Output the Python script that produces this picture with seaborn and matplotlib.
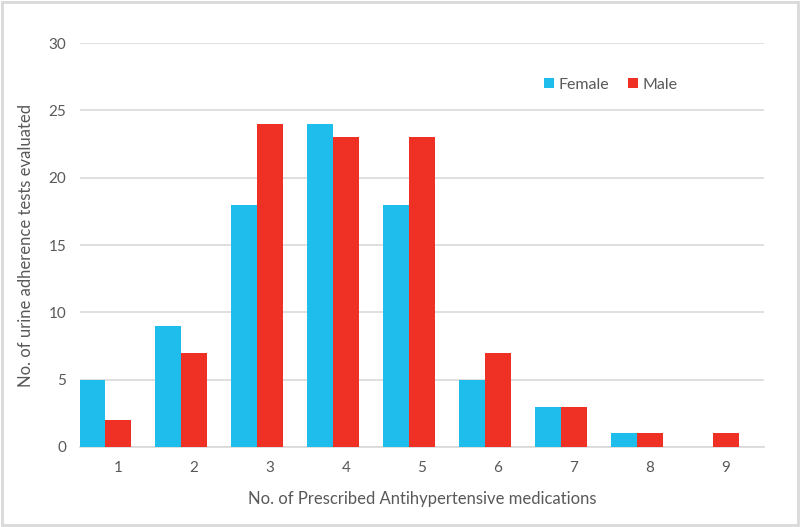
import numpy as np
import pandas as pd
import matplotlib
matplotlib.use("Agg")
import matplotlib.pyplot as plt
import seaborn as sns
from matplotlib.patches import Rectangle

# Дані з рисунка
medications = ['1', '2', '3', '4', '5', '6', '7', '8', '9']
female = [5, 9, 18, 24, 18, 5, 3, 1, 0]
male = [2, 7, 24, 23, 23, 7, 3, 1, 1]
sexes = ['Female', 'Male']
colors = ['#1FBDEB', '#EE3124']

df = pd.DataFrame({
    'meds': medications * 2,
    'count': female + male,
    'sex': ['Female'] * len(female) + ['Male'] * len(male),
})

sns.set_style('white')
plt.rcParams['font.family'] = ['Lato', 'DejaVu Sans']

fig = plt.figure(figsize=(8, 5.27), dpi=100)
ax = fig.add_axes([0.1, 0.152, 0.855, 0.766])

sns.barplot(data=df, x='meds', y='count', hue='sex', hue_order=sexes,
            palette=colors, width=0.68, dodge=True, saturation=1,
            gap=0, linewidth=0, ax=ax, zorder=3)

# Male bar sits on the tick, female bar to its left
ax.set_xticks(np.arange(len(medications)) + 0.17)
ax.set_xticklabels(medications)
ax.set_xlim(-0.33, len(medications) - 0.33)

ax.set_ylim(0, 30)
ax.set_yticks(range(0, 31, 5))
ax.yaxis.grid(True, color='#D9D9D9', linewidth=1.2, zorder=0)
ax.set_axisbelow(True)
for s in ['top', 'right', 'left']:
    ax.spines[s].set_visible(False)
ax.spines['bottom'].set_color('#D9D9D9')
ax.spines['bottom'].set_linewidth(1.2)
ax.tick_params(axis='both', length=0, labelsize=11, labelcolor='#595959', pad=10)

ax.set_xlabel('No. of Prescribed Antihypertensive medications', fontsize=12,
              color='#595959', labelpad=12)
ax.set_ylabel('No. of urine adherence tests evaluated', fontsize=12,
              color='#595959', labelpad=10)

ax.legend(title=None, frameon=False, ncol=2, loc='upper right',
          bbox_to_anchor=(0.895, 0.95), fontsize=11.5, handlelength=0.6,
          handleheight=0.6, handletextpad=0.3, columnspacing=1.2,
          labelcolor='#595959')

# рамка навколо рисунка
fig.patches.append(Rectangle((0.002, 0.003), 0.996, 0.994, transform=fig.transFigure,
                             fill=False, edgecolor='#D9D9D9', linewidth=2))

fig.savefig('out.png', dpi=100)
